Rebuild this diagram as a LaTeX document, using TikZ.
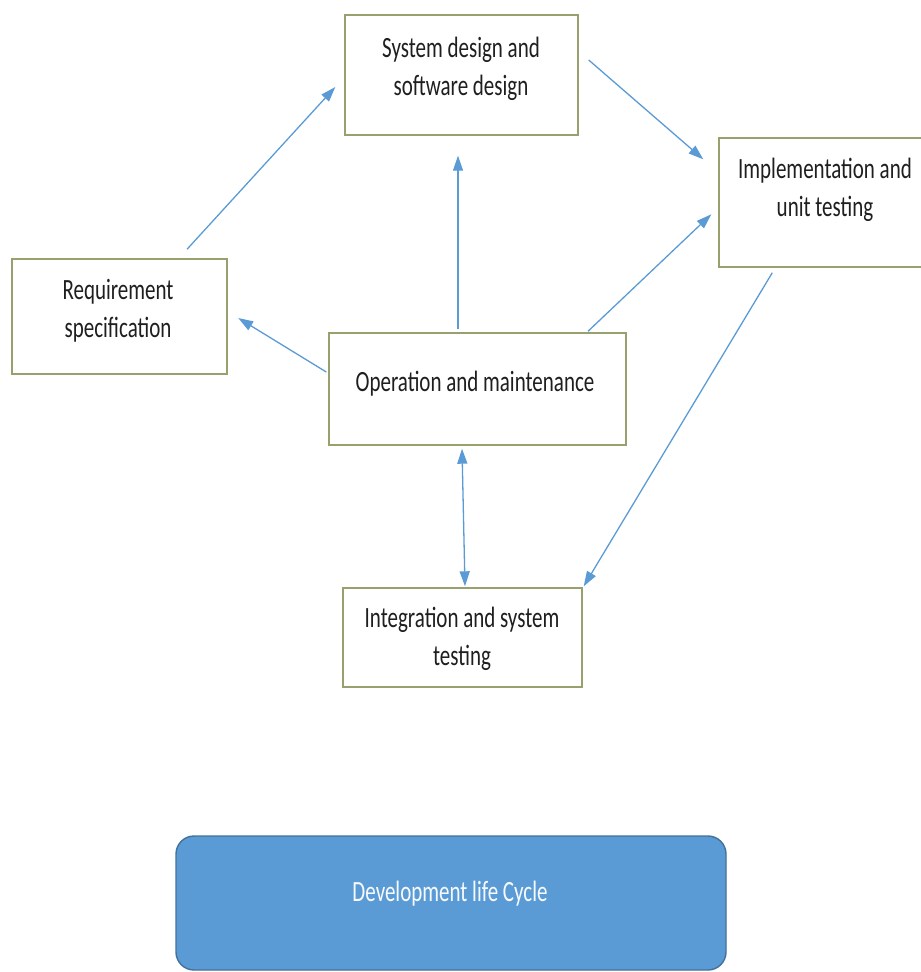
\documentclass[tikz,border=0pt]{standalone}
\usepackage{fontspec}
\setmainfont{Carlito}
\usetikzlibrary{arrows.meta,calc}
\definecolor{boxline}{HTML}{98A06E}
\definecolor{flow}{HTML}{5B9BD5}
\definecolor{flowdark}{HTML}{41719C}
% text stretched vertically, one centred line per row
\newcommand\vtext[1]{\scalebox{1}[1.4]{\begin{tabular}{@{}c@{}}#1\end{tabular}}}
\begin{document}
\begin{tikzpicture}[x=1pt,y=-1pt,
  stage/.style={draw=boxline,line width=1.4pt,fill=white,rectangle,inner sep=0pt},
  caption/.style={inner sep=0pt,font=\fontsize{21}{27.5}\selectfont,text=black!88},
  flowarrow/.style={draw=flow,line width=1.3pt,-{Triangle[length=15pt,width=10pt]}},
  flowboth/.style={draw=flow,line width=1.3pt,{Triangle[length=15pt,width=10pt]}-{Triangle[length=15pt,width=10pt]}}]
\useasboundingbox (0,0) rectangle (921,972);

% stage boxes
\node[stage,minimum width=215pt,minimum height=115pt] (req)   at (119.5,316.5) {};
\node[stage,minimum width=233pt,minimum height=120pt] (sys)   at (461.5,75) {};
\node[stage,minimum width=206pt,minimum height=129pt] (impl)  at (822,202.5) {};
\node[stage,minimum width=297pt,minimum height=112pt] (op)    at (477.5,389) {};
\node[stage,minimum width=239pt,minimum height=99pt]  (integ) at (462.5,637.5) {};

% stage captions
\node[caption] (reqtxt)   at (118,311)  {\vtext{Requirement\\specification}};
\node[caption] (systxt)   at (461,69)   {\vtext{System design and\\software design}};
\node[caption] (impltxt)  at (825,190)  {\vtext{Implementation and\\unit testing}};
\node[caption] (optxt)    at (475,384)  {\vtext{Operation and maintenance}};
\node[caption] (integtxt) at (462,639)  {\vtext{Integration and system\\testing}};

% title banner
\node[draw=flowdark,fill=flow,line width=1.4pt,rounded corners=18pt,
      minimum width=550pt,minimum height=134pt,inner sep=0pt] (dev) at (451,903) {};
\node[caption,text=white!95!flow] (devtxt) at (450,894) {\vtext{Development life Cycle}};

% connector end points, placed relative to the boxes
\coordinate (reqout)  at ($(req.north)+(67.5,-9)$);
\coordinate (sysin)   at ($(sys.west)+(-9,12)$);
\coordinate (sysout)  at ($(sys.east)+(10,-15)$);
\coordinate (implin)  at ($(impl.north west)+(-15,22)$);
\coordinate (sysbot)  at ($(sys.south)+(-3.5,20)$);
\coordinate (optop)   at ($(op.north)+(-19.5,-3)$);
\coordinate (opright) at ($(op.north)+(110.5,-1)$);
\coordinate (implmid) at ($(impl.north west)+(-7,77)$);
\coordinate (opleft)  at ($(op.west)+(-2,-17)$);
\coordinate (reqin)   at ($(req.east)+(10.5,1.5)$);
\coordinate (implbot) at ($(impl.south west)+(54,5)$);
\coordinate (integin) at ($(integ.north east)+(1,-1)$);
\coordinate (opbot)   at ($(op.south)+(-15.5,3)$);
\coordinate (integtop) at ($(integ.north)+(2.5,-1)$);

% cycle connectors
\draw[flowarrow] (reqout) -- (sysin);
\draw[flowarrow] (sysout) -- (implin);
\draw[flowarrow] (optop) -- (sysbot);
\draw[flowarrow] (opright) -- (implmid);
\draw[flowarrow] (opleft) -- (reqin);
\draw[flowarrow] (implbot) -- (integin);
\draw[flowboth] (opbot) -- (integtop);
\end{tikzpicture}
\end{document}
